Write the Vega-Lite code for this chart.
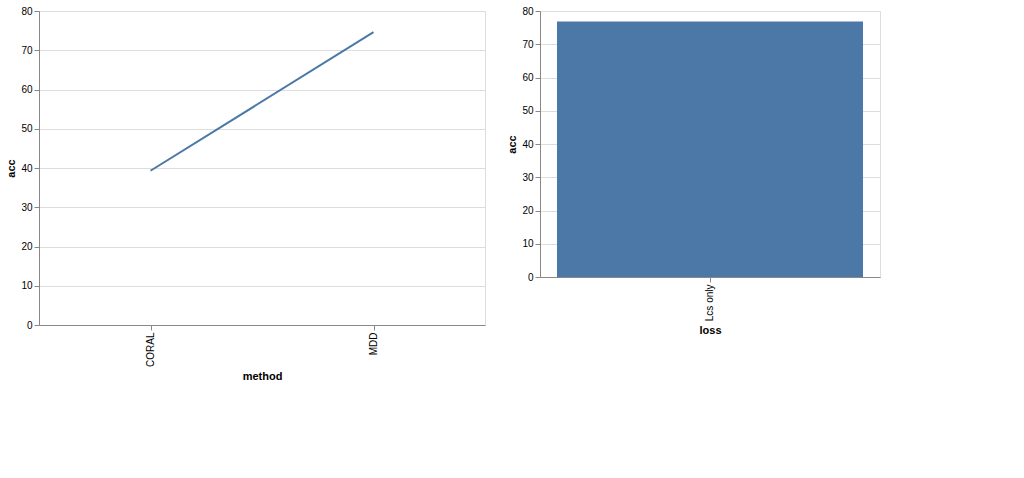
{
  "$schema": "https://vega.github.io/schema/vega-lite/v6.json",
  "hconcat": [
    {
      "width": 446,
      "height": 314,
      "data": {"values": [
        {"method": "MDD", "acc": 74.6},
        {"method": "CORAL", "acc": 39.3}
      ]},
      "mark": "line",
      "encoding": {
        "x": {"field": "method", "type": "nominal"},
        "y": {"field": "acc", "type": "quantitative"}
      }
    },
    {
      "width": 340,
      "height": 266,
      "data": {"values": [
        {"loss": "Lcs only", "acc": 76.81}
      ]},
      "mark": "bar",
      "encoding": {
        "x": {"field": "loss", "type": "nominal"},
        "y": {"field": "acc", "type": "quantitative"}
      }
    }
  ]
}
